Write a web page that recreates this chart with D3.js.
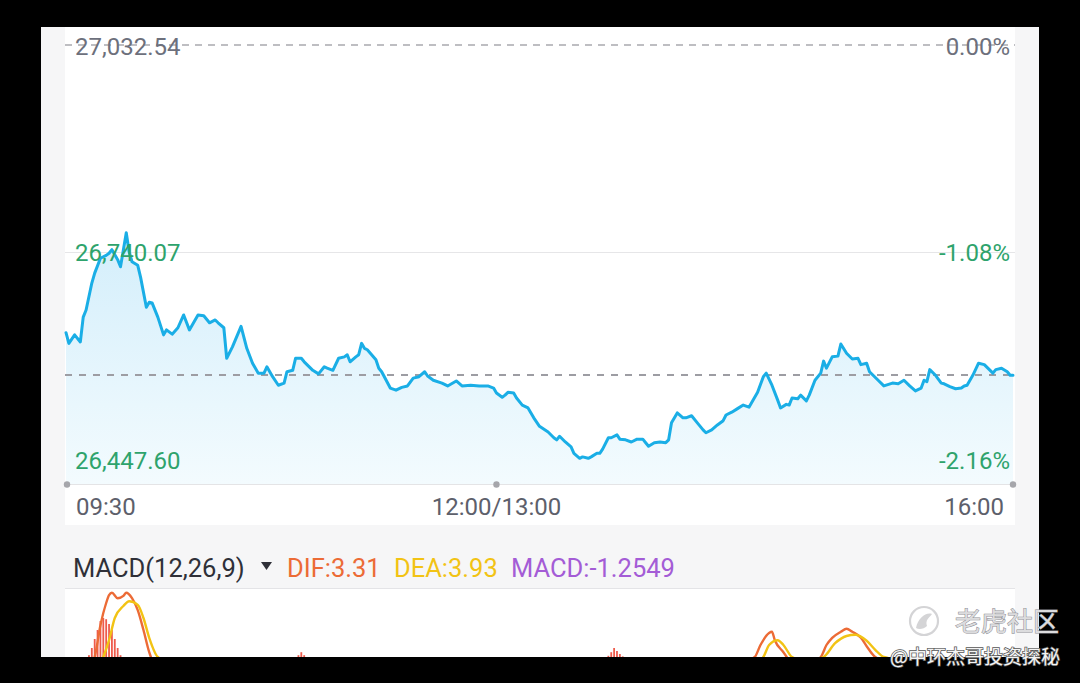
<!DOCTYPE html>
<html><head><meta charset="utf-8">
<script src="https://cdn.jsdelivr.net/npm/d3@7"></script>
<style>html,body{margin:0;padding:0;background:#000;}svg{display:block;}</style>
</head><body>
<svg id="chart" width="1080" height="683"></svg>
<script>
// ---- price line (trading minutes from 09:30, lunch break removed) ----
const minutes = [0,1,3,5,6,7,9,10,12,14,15,16,18,19,21,22,23,25,26,28,29,30,32,34,35,37,39,41,43,44,46,48,50,52,53,55,56,58,61,63,65,67,69,70,72,74,76,77,79,80,82,83,86,88,90,91,93,95,97,98,99,101,102,103,104,105,108,109,110,113,115,117,119,121,123,125,126,128,131,133,136,138,141,144,147,149,150,152,153,154,156,157,159,161,163,165,168,170,171,172,174,176,177,179,180,182,183,185,186,187,189,190,192,193,195,197,199,201,202,203,205,207,209,210,211,213,215,216,218,220,222,223,225,227,229,230,232,234,236,238,239,241,243,244,246,248,249,251,252,253,255,256,258,259,261,263,264,265,267,269,270,272,274,276,277,279,280,283,285,288,290,292,294,296,298,299,300,301,303,305,306,308,310,312,313,314,316,318,320,323,324,326,328,329,330];
const prices = [26627,26612,26624,26614,26649,26659,26697,26711,26732,26736,26739,26744,26730,26720,26768,26741,26727,26722,26705,26663,26670,26669,26649,26624,26631,26625,26634,26652,26631,26638,26652,26651,26641,26645,26641,26634,26591,26607,26636,26605,26584,26570,26570,26579,26565,26553,26556,26572,26574,26591,26591,26586,26574,26569,26579,26577,26574,26591,26593,26596,26586,26593,26596,26612,26605,26603,26589,26577,26572,26549,26546,26550,26552,26563,26565,26572,26566,26560,26556,26552,26559,26552,26553,26552,26552,26549,26542,26536,26539,26543,26542,26535,26525,26521,26507,26495,26487,26479,26476,26481,26473,26466,26457,26450,26452,26450,26452,26457,26457,26463,26479,26479,26483,26477,26476,26473,26477,26477,26472,26467,26472,26473,26472,26476,26500,26514,26507,26507,26510,26500,26490,26486,26490,26497,26503,26511,26515,26520,26525,26522,26529,26543,26565,26570,26553,26532,26521,26526,26525,26535,26534,26539,26531,26539,26560,26570,26587,26577,26593,26594,26611,26598,26590,26591,26582,26584,26572,26560,26552,26556,26555,26560,26552,26545,26549,26560,26558,26575,26567,26556,26555,26551,26548,26549,26552,26553,26567,26584,26582,26570,26575,26577,26572,26567,26567];
const lastPrice = 26567.4;

const yTickValues = [27032.54, 26740.07, 26447.60];
const yTickLabels = ["27,032.54", "26,740.07", "26,447.60"];
const yPctLabels  = ["0.00%", "-1.08%", "-2.16%"];
const xTickMinutes = [0, 150, 330];
const xTickLabels  = ["09:30", "12:00/13:00", "16:00"];

// ---- MACD ----
const difMinutes = [0,7,10,12,14,15,16,18,20,21,23,25,27,29,32,45,70,110,150,190,220,240,242,245,246,247,250,252,257,263,265,267,270,272,274,277,279,282,295,330];
const difValues  = [0,3,5.5,10.8,14.5,15.8,16.2,15.3,15.7,16.2,15.3,13.3,10,6.3,3.5,1.5,-1,-2,-4,-2,2,5.5,7.5,9.5,9.7,8.3,6.3,5,4,5.5,7.5,8.7,9.7,10.2,9.7,8.7,7.3,5.5,3.5,3.31];
const deaMinutes = [0,10,13,15,17,20,22,25,27,29,32,45,70,110,150,190,220,240,243,245,248,250,253,258,264,268,272,275,279,282,285,300,330];
const deaValues  = [0,2,5.5,8.3,12,14,14.8,14.2,12,8.7,5.5,3,0.5,-1,-3,-3,1,4.5,5.5,7.5,8.3,7.5,5.5,4.8,5.5,7.8,9,9.2,8.2,6.7,5.5,4.5,3.93];
const histMinutes = [8,9,10,11,12,13,14,15,16,17,18,19,81,82,83,189,190,191,192,193,194];
const histValues  = [5.8,7,8.5,10,11.5,12,11.8,11,10,8.5,7,5.8,5.8,6.3,5.8,5.7,6.3,7,6.5,6,5.6];
const macdLegend = [
  {text:"DIF:3.31", color:"#ec6b36"},
  {text:"DEA:3.93", color:"#f2c314"},
  {text:"MACD:-1.2549", color:"#a45cd6"}
];

const svg = d3.select("#chart");
const W = 1080, H = 683;
svg.append("rect").attr("width", W).attr("height", H).attr("fill", "#000");

// panel
const panel = {x0:41, x1:1039, y0:27, y1:657};
svg.append("rect").attr("x", panel.x0).attr("y", panel.y0)
  .attr("width", panel.x1 - panel.x0).attr("height", panel.y1 - panel.y0).attr("fill", "#f6f6f7");
const plot = {x0:65, x1:1015, y0:27, y1:525};
svg.append("rect").attr("x", plot.x0).attr("y", plot.y0)
  .attr("width", plot.x1 - plot.x0).attr("height", plot.y1 - plot.y0).attr("fill", "#fff");

const x = d3.scaleLinear().domain([0, 330]).range([66, 1013]);
const y = d3.scaleLinear().domain([26447.60, 27032.54]).range([460, 45]);
const baseY = 484;

const defs = svg.append("defs");
const grad = defs.append("linearGradient").attr("id", "areaGrad")
  .attr("gradientUnits", "userSpaceOnUse").attr("x1", 0).attr("x2", 0).attr("y1", 230).attr("y2", baseY);
grad.append("stop").attr("offset", 0).attr("stop-color", "#d3eefb");
grad.append("stop").attr("offset", 1).attr("stop-color", "#f3fbfe");

const pts = minutes.map((m, i) => [m, prices[i]]);

// grid: middle solid line
svg.append("line").attr("x1", plot.x0).attr("x2", plot.x1)
  .attr("y1", Math.round(y(yTickValues[1])) - 0.5).attr("y2", Math.round(y(yTickValues[1])) - 0.5)
  .attr("stroke", "#e6e6e8").attr("stroke-width", 1);

// area
svg.append("path").datum(pts)
  .attr("d", d3.area().x(d => x(d[0])).y0(baseY).y1(d => y(d[1])))
  .attr("fill", "url(#areaGrad)");

svg.append("line").attr("x1", plot.x0).attr("x2", plot.x1)
  .attr("y1", baseY + 0.5).attr("y2", baseY + 0.5).attr("stroke", "#e4e4e6").attr("stroke-width", 1.2);

// dashed lines: top (first tick) and last price
svg.append("line").attr("x1", plot.x0).attr("x2", plot.x1)
  .attr("y1", y(yTickValues[0])).attr("y2", y(yTickValues[0]))
  .attr("stroke", "#a9a9ae").attr("stroke-width", 1.6).attr("stroke-dasharray", "7,6");
svg.append("line").attr("x1", plot.x0).attr("x2", plot.x1)
  .attr("y1", y(lastPrice)).attr("y2", y(lastPrice))
  .attr("stroke", "#9d9da3").attr("stroke-width", 1.8).attr("stroke-dasharray", "7,7");

// line
svg.append("path").datum(pts)
  .attr("d", d3.line().x(d => x(d[0])).y(d => y(d[1])))
  .attr("fill", "none").attr("stroke", "#1aaee6").attr("stroke-width", 3)
  .attr("stroke-linejoin", "round").attr("stroke-linecap", "round");

// y labels
const font = "Roboto, 'Noto Sans', sans-serif";
const yColors = ["#6d707c", "#2ea36c", "#2ea36c"];
yTickValues.forEach((v, i) => {
  const ty = Math.min(Math.max(y(v), 46), 462) + 8.5;
  svg.append("text").attr("x", 75).attr("y", ty).text(yTickLabels[i])
    .attr("font-family", font).attr("font-size", 24).attr("fill", yColors[i]);
  svg.append("text").attr("x", 1010).attr("y", ty).attr("text-anchor", "end").text(yPctLabels[i])
    .attr("font-family", font).attr("font-size", 24).attr("fill", yColors[i]);
});

// x ticks dots & labels
xTickMinutes.forEach((m, i) => {
  svg.append("circle").attr("cx", i === 0 ? 67 : (i === 2 ? 1013 : x(m))).attr("cy", baseY + 0.5)
    .attr("r", 3.2).attr("fill", "#a6a6ab");
  const anchor = i === 0 ? "start" : (i === 2 ? "end" : "middle");
  const tx = i === 0 ? 76 : (i === 2 ? 1004 : x(m));
  svg.append("text").attr("x", tx).attr("y", 515).attr("text-anchor", anchor).text(xTickLabels[i])
    .attr("font-family", font).attr("font-size", 24).attr("fill", "#5d606b");
});

// ---- MACD panel ----
const mTop = 588;
svg.append("rect").attr("x", plot.x0).attr("y", mTop).attr("width", plot.x1 - plot.x0)
  .attr("height", panel.y1 - mTop).attr("fill", "#fff");
svg.append("line").attr("x1", plot.x0).attr("x2", plot.x1).attr("y1", mTop + 0.5).attr("y2", mTop + 0.5)
  .attr("stroke", "#e4e4e7").attr("stroke-width", 1);

const my = d3.scaleLinear().domain([0, 16]).range([690, 594]);
defs.append("clipPath").attr("id", "macdClip").append("rect")
  .attr("x", plot.x0).attr("y", mTop + 1).attr("width", plot.x1 - plot.x0).attr("height", panel.y1 - mTop - 1);
const mg = svg.append("g").attr("clip-path", "url(#macdClip)");
mg.selectAll("rect.bar").data(histMinutes).join("rect").attr("class", "bar")
  .attr("x", (m) => x(m) - 0.9).attr("width", 1.8)
  .attr("y", (m, i) => my(histValues[i])).attr("height", (m, i) => my(0) - my(histValues[i]))
  .attr("fill", "#ee5b4c");
mg.append("path").datum(difMinutes.map((m, i) => [m, difValues[i]]))
  .attr("d", d3.line().x(d => x(d[0])).y(d => my(d[1])).curve(d3.curveMonotoneX))
  .attr("fill", "none").attr("stroke", "#ec6b36").attr("stroke-width", 2.4);
mg.append("path").datum(deaMinutes.map((m, i) => [m, deaValues[i]]))
  .attr("d", d3.line().x(d => x(d[0])).y(d => my(d[1])).curve(d3.curveMonotoneX))
  .attr("fill", "none").attr("stroke", "#f2c314").attr("stroke-width", 2.4);

// MACD header
svg.append("text").attr("x", 73).attr("y", 577).text("MACD(12,26,9)")
  .attr("font-family", font).attr("font-size", 25.5).attr("fill", "#2f3038");
svg.append("path").attr("d", "M261,562 L272,562 L266.5,570 Z").attr("fill", "#2f3038");
const legendX = [287, 394, 511];
macdLegend.forEach((l, i) => {
  svg.append("text").attr("x", legendX[i]).attr("y", 577).text(l.text)
    .attr("font-family", font).attr("font-size", 25.5).attr("fill", l.color);
});

// bottom black band
svg.append("rect").attr("x", 0).attr("y", panel.y1).attr("width", W).attr("height", H - panel.y1).attr("fill", "#000");

// watermark
const wm = svg.append("g");
wm.append("circle").attr("cx", 924).attr("cy", 621).attr("r", 14)
  .attr("fill", "none").attr("stroke", "#d4d4d6").attr("stroke-width", 2.2);
wm.append("path").attr("d", "M916,628 C918,618 926,612 932,614 C929,618 925,620 927,626 C924,629 919,630 916,628 Z")
  .attr("fill", "#d4d4d6");
wm.append("text").attr("x", 955).attr("y", 631).text("老虎社区")
  .attr("font-family", "'Noto Sans CJK SC', sans-serif").attr("font-size", 26)
  .attr("fill", "#dcdcde").attr("stroke", "#8e8e94").attr("stroke-width", 1).attr("paint-order", "stroke");
wm.append("text").attr("x", 890).attr("y", 664).text("@中环杰哥投资探秘")
  .attr("font-family", "'Noto Sans CJK SC', sans-serif").attr("font-size", 19)
  .attr("fill", "#f4f4f4").attr("stroke", "#555").attr("stroke-width", 1.5).attr("paint-order", "stroke");
</script>
</body></html>
